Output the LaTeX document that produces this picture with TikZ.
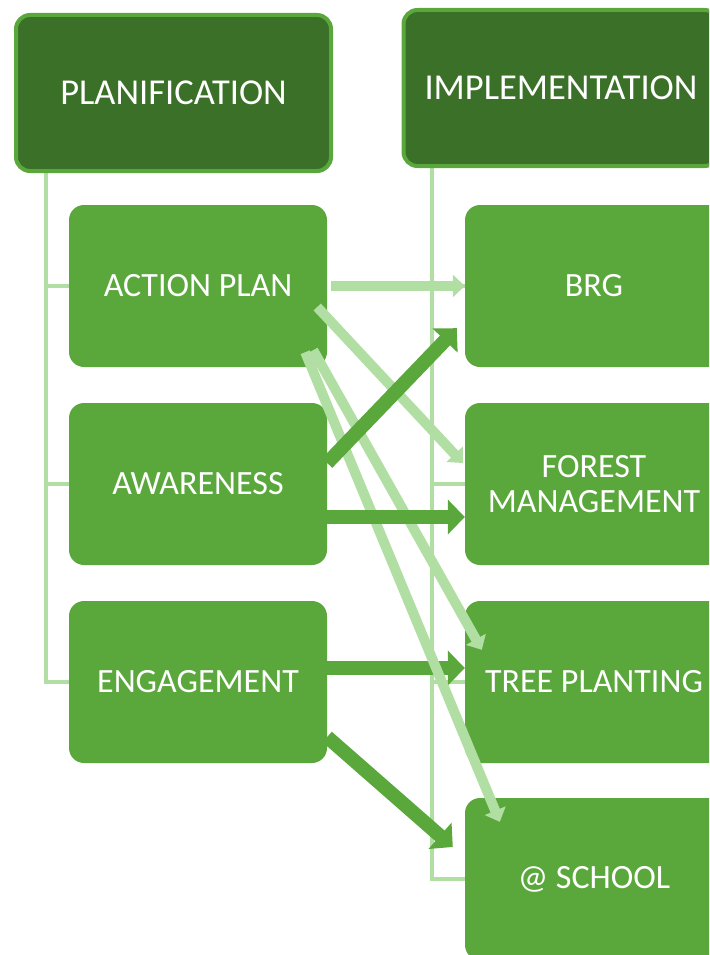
\documentclass[tikz,border=0pt]{standalone}
\usepackage{fontspec}
\setmainfont{Carlito}
\usetikzlibrary{arrows.meta,calc,backgrounds}

\definecolor{hdrgreen}{HTML}{3A7027}
\definecolor{boxgreen}{HTML}{5AA83C}
\definecolor{linkgreen}{HTML}{B1DEA3}

\tikzset{
  header/.style={draw=boxgreen, line width=4pt, fill=hdrgreen, rounded corners=14pt,
    minimum width=315pt, minimum height=156pt, inner sep=0pt, text=white,
    font=\fontsize{36.5}{40}\selectfont},
  item/.style={fill=boxgreen, rounded corners=15pt, minimum width=258pt,
    minimum height=162pt, inner sep=0pt, text=white, align=center,
    font=\fontsize{34}{35}\selectfont},
  link/.style={draw=linkgreen, line width=4pt},
  soft/.style={draw=linkgreen, line width=10pt, -{Triangle[length=12pt,width=22pt]}},
  strong/.style={draw=boxgreen, line width=14pt, -{Triangle[length=17pt,width=34pt]}},
}

\begin{document}
\begin{tikzpicture}[x=1pt,y=-1pt]
    \clip (0,0) rectangle (709,955);

    \node[header] (plan) at (173.5,93) {PLANIFICATION};
    \node[header] (impl) at (561,88) {IMPLEMENTATION};

    \path ([xshift=32pt]plan.south west) coordinate (pl);
    \path ([xshift=30pt]impl.south west) coordinate (im);

    \node[item] (ap) at (198,286) {ACTION PLAN};
    \node[item] (aw) at (198,484) {AWARENESS};
    \node[item] (en) at (198,682) {ENGAGEMENT};

    \node[item] (brg) at (594,286) {BRG};
    \node[item] (fm) at (594,484) {FOREST\\MANAGEMENT};
    \node[item] (tp) at (594,682) {TREE PLANTING};
    \node[item] (sc) at (594,879) {@ SCHOOL};

    \begin{scope}[on background layer]
        \draw[link] (pl) |- (ap.west);
        \draw[link] (pl) |- (aw.west);
        \draw[link] (pl) |- (en.west);
        \draw[link] (im) |- (brg.west);
        \draw[link] (im) |- (fm.west);
        \draw[link] (im) |- (tp.west);
        \draw[link] (im) |- (sc.west);
    \end{scope}

    \draw[strong] ($(en.east)+(0,-14)$) -- ($(tp.west)+(0,-14)$);

    \draw[soft] ([xshift=4pt]ap.east) -- (brg.west);
    \draw[soft] ($(ap.east)+(-10,21)$) -- ($(fm.west)+(-2,-21)$);
    \draw[soft] ($(ap.south east)+(-14,-17)$) -- ($(tp.north west)+(17,49)$);
    \draw[soft] ($(ap.south east)+(-22,-15)$) -- ($(sc.north west)+(35,24)$);

    \draw[strong] ($(aw.east)+(0,-21)$) -- ($(brg.south west)+(-8,-39)$);
    \draw[strong] ($(aw.east)+(0,33)$) -- ($(fm.west)+(0,33)$);
    \draw[strong] ($(en.east)+(0,55)$) -- ($(sc.west)+(-12,-32)$);
\end{tikzpicture}
\end{document}
